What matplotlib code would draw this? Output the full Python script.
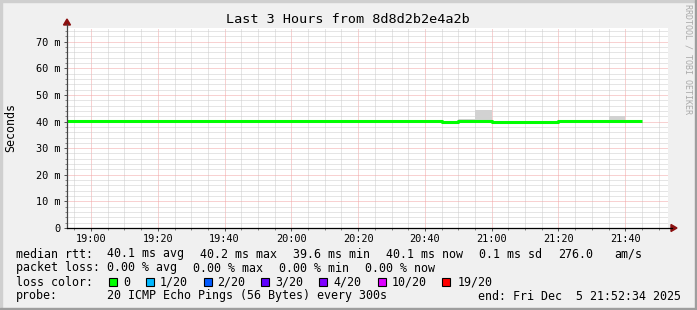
import matplotlib
matplotlib.use("Agg")
import matplotlib.pyplot as plt
from matplotlib.lines import Line2D
from matplotlib.patches import Polygon, Rectangle
import numpy as np

# ---------------- data ----------------
# interval start times (minutes after 18:00), 5-minute steps 18:50 .. 21:40
step_start = [50, 55, 60, 65, 70, 75, 80, 85, 90, 95, 100, 105, 110, 115,
              120, 125, 130, 135, 140, 145, 150, 155, 160, 165, 170, 175,
              180, 185, 190, 195, 200, 205, 210, 215, 220]
# median rtt in ms
median_ms = [40.1, 40.1, 40.1, 40.1, 40.1, 40.1, 40.1, 40.1, 40.1, 40.1,
             40.1, 40.1, 40.3, 40.3, 40.1, 40.1, 40.1, 40.1, 40.1, 40.1,
             40.1, 40.1, 40.2, 39.9, 40.1, 40.1, 39.8, 39.7, 39.7, 39.7,
             40.1, 40.1, 40.1, 40.1, 40.1]
# smoke range (min / max ping) in ms
smoke_lo = [40.0, 40.0, 40.0, 40.0, 40.0, 40.0, 39.5, 39.5, 40.0, 40.0,
            40.0, 40.0, 40.2, 40.2, 40.0, 39.6, 40.0, 40.0, 40.0, 40.0,
            40.0, 39.9, 40.1, 39.8, 40.0, 40.0, 39.7, 39.6, 39.4, 39.6,
            40.0, 40.0, 39.5, 40.0, 40.0]
smoke_hi = [40.2, 40.2, 40.2, 40.2, 40.2, 40.5, 40.2, 40.2, 40.2, 40.2,
            40.2, 40.2, 40.4, 40.4, 40.6, 40.2, 40.2, 40.2, 40.2, 40.2,
            40.2, 40.6, 40.3, 40.0, 40.8, 44.2, 40.3, 39.8, 39.8, 39.8,
            40.2, 40.2, 40.6, 42.0, 40.2]
step_end = 225

x_major = [60, 80, 100, 120, 140, 160, 180, 200, 220]
x_labels = ["19:00", "19:20", "19:40", "20:00", "20:20", "20:40", "21:00", "21:20", "21:40"]
y_major = [0, 10, 20, 30, 40, 50, 60, 70]
y_labels = ["0", "10 m", "20 m", "30 m", "40 m", "50 m", "60 m", "70 m"]

loss_labels = ["0", "1/20", "2/20", "3/20", "4/20", "10/20", "19/20"]
loss_colors = ["#00ff00", "#00b8ff", "#0059ff", "#5e00ff", "#7e00ff", "#dd00ff", "#ff0000"]

title = "Last 3 Hours from 8d8d2b2e4a2b"

# ---------------- figure ----------------
W, H = 697, 310
fig = plt.figure(figsize=(W / 100, H / 100), dpi=100, facecolor="#f0f0f0")
MONO = "DejaVu Sans Mono"


def fx(px):
    return px / W


def fy(py):
    return 1 - py / H


L, R, T, B = 67, 668, 28, 228
ax = fig.add_axes([fx(L), fy(B), (R - L) / W, (B - T) / H])
ax.set_facecolor("white")
xmin = 52.8
ax.set_xlim(xmin, xmin + 180)
ax.set_ylim(0, (B - T) / 2.661)

xs = np.array(step_start + [step_end], dtype=float)
lo = np.array(smoke_lo + [smoke_lo[-1]])
hi = np.array(smoke_hi + [smoke_hi[-1]])
md = np.array(median_ms + [median_ms[-1]])

ax.fill_between(xs, lo, hi, step="post", color="#d2d2d2", linewidth=0, zorder=3)
ax.step(xs, md, where="post", color="#00ff00", linewidth=2.2, zorder=4,
        solid_capstyle="butt")

# grid
ax.set_xticks(x_major)
ax.set_xticks(np.arange(55, 235, 5), minor=True)
ax.set_yticks(y_major)
ax.set_yticks(np.arange(0, 76, 2), minor=True)
ax.set_xticklabels(x_labels, fontsize=7.4, family=MONO)
ax.set_yticklabels(y_labels, fontsize=7.4, family=MONO)
ax.grid(which="minor", color="#cccccc", linestyle=(0, (1, 1)), linewidth=0.72, zorder=1)
ax.grid(which="major", color="#f2a4a4", linestyle=(0, (1, 1)), linewidth=0.72, zorder=2)
ax.set_axisbelow(True)
ax.tick_params(which="major", length=2.2, width=0.72, color="#555555", pad=2.5)
ax.tick_params(which="minor", length=1.4, width=0.72, color="#888888")
ax.tick_params(axis="x", which="major", pad=2.0)
for s in ax.spines.values():
    s.set_visible(False)

# axes lines with arrows
fig.add_artist(Line2D([fx(L), fx(L)], [fy(B), fy(24)], color="#444444", linewidth=0.9))
fig.add_artist(Line2D([fx(L), fx(672)], [fy(B), fy(B)], color="#000000", linewidth=0.9))
fig.add_artist(Polygon([(fx(L - 3.5), fy(25)), (fx(L + 3.5), fy(25)), (fx(L), fy(19))],
                       closed=True, color="#8b1010"))
fig.add_artist(Polygon([(fx(671), fy(B - 3.5)), (fx(671), fy(B + 3.5)), (fx(677), fy(B))],
                       closed=True, color="#8b1010"))

# border shading
fig.add_artist(Rectangle((0, fy(2)), 1, 2 / H, color="#cfcfcf", transform=fig.transFigure))
fig.add_artist(Rectangle((0, 0), 2 / W, 1, color="#cfcfcf", transform=fig.transFigure))
fig.add_artist(Rectangle((0, 0), 1, 2 / H, color="#9e9e9e", transform=fig.transFigure))
fig.add_artist(Rectangle((fx(W - 2), 0), 2 / W, 1, color="#9e9e9e", transform=fig.transFigure))

# title and labels
fig.text(fx(348), fy(19.5), title, ha="center", va="center", fontsize=9.7, family=MONO)
fig.text(fx(11), fy(127), "Seconds", ha="center", va="center", rotation=90,
         fontsize=8.4, family=MONO)
fig.text(fx(688), fy(4), "RRDTOOL / TOBI OETIKER", ha="center", va="top", rotation=270,
         fontsize=6.0, family=MONO, color="#aaaaaa")

FS = 8.4


def t(x, y, s):
    fig.text(fx(x), fy(y), s, ha="left", va="center", fontsize=FS, family=MONO)


r1, r2, r3, r4 = 254, 268, 282, 296
t(16, r1, "median rtt:")
t(107.3, r1, "40.1 ms avg")
t(200, r1, "40.2 ms max")
t(293.3, r1, "39.6 ms min")
t(386, r1, "40.1 ms now")
t(479.3, r1, "0.1 ms sd")
t(557.7, r1, "276.0")
t(614.3, r1, "am/s")

t(16, r2, "packet loss:")
t(107.3, r2, "0.00 % avg")
t(193.3, r2, "0.00 % max")
t(279.3, r2, "0.00 % min")
t(365, r2, "0.00 % now")

t(16, r3, "loss color:")
sq_x = [109, 146, 203.5, 261, 319, 378, 442]
lab_x = [123.3, 160, 217.3, 275.3, 333, 391.7, 457.3]
for sx, lx, lab, col in zip(sq_x, lab_x, loss_labels, loss_colors):
    fig.add_artist(Rectangle((fx(sx), fy(r3 + 4)), 8 / W, 8 / H, facecolor=col,
                             edgecolor="black", linewidth=0.8, transform=fig.transFigure))
    t(lx, r3, lab)

t(16, r4, "probe:")
t(107.3, r4, "20 ICMP Echo Pings (56 Bytes) every 300s")
t(478.3, r4, "end: Fri Dec  5 21:52:34 2025")

fig.savefig("out.png", dpi=100, facecolor=fig.get_facecolor())
